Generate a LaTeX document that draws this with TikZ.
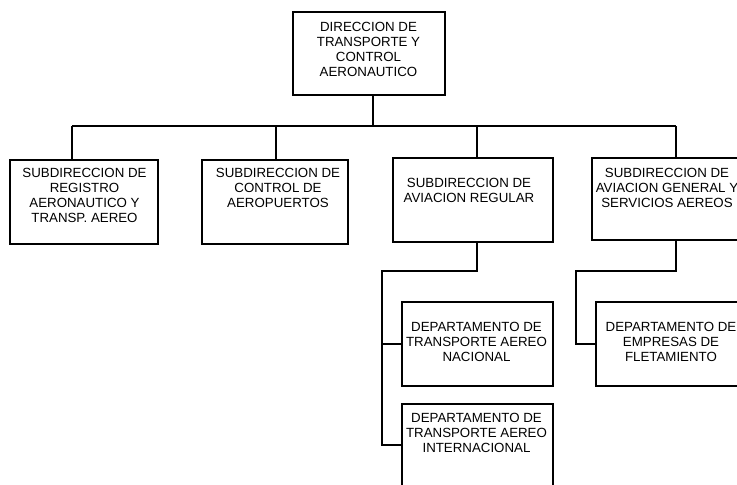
\documentclass[tikz,border=0pt]{standalone}
\usepackage{fontspec}
\setmainfont{Liberation Sans}
\begin{document}
\begin{tikzpicture}[x=1pt,y=-1pt,
  box/.style={draw=black, line width=2pt, fill=white, inner sep=0pt, outer sep=0pt},
  txt/.style={inner sep=0pt, align=center, anchor=north,
    font=\fontsize{13.3pt}{15pt}\selectfont},
  wire/.style={draw=black, line width=2pt}]
\useasboundingbox (0,0) rectangle (737,485);
\clip (0,0) rectangle (737,485);

% top level
\node[box, minimum width=152pt, minimum height=83pt] (T) at (369,53.5) {};
\node[txt] (tT) at (368.5,22) {DIRECCION DE\\TRANSPORTE Y\\CONTROL\\AERONAUTICO};

% sub-directorates
\node[box, minimum width=148pt, minimum height=84pt] (A) at (83.5,202) {};
\node[txt] (tA) at (84.5,168) {SUBDIRECCION DE\\REGISTRO\\AERONAUTICO Y\\TRANSP. AEREO};

\node[box, minimum width=146pt, minimum height=84pt] (B) at (275,202) {};
\node[txt] (tB) at (278,168) {SUBDIRECCION DE\\CONTROL DE\\AEROPUERTOS};

\node[box, minimum width=160pt, minimum height=84pt] (C) at (473,200) {};
\node[txt] (tC) at (469,178) {SUBDIRECCION DE\\AVIACION REGULAR};

\node[box, minimum width=152pt, minimum height=82pt] (D) at (668,199) {};
\node[txt] (tD) at (667,168) {SUBDIRECCION DE\\AVIACION GENERAL Y\\SERVICIOS AEREOS};

% departments
\node[box, minimum width=151pt, minimum height=84pt] (E) at (477.5,344) {};
\node[txt] (tE) at (476.5,322) {DEPARTAMENTO DE\\TRANSPORTE AEREO\\NACIONAL};

\node[box, minimum width=151pt, minimum height=86pt] (F) at (477.5,447) {};
\node[txt] (tF) at (476.5,413) {DEPARTAMENTO DE\\TRANSPORTE AEREO\\INTERNACIONAL};

\node[box, minimum width=152pt, minimum height=84pt] (G) at (672,344) {};
\node[txt] (tG) at (671,322) {DEPARTAMENTO DE\\EMPRESAS DE\\FLETAMIENTO};

% main bus
\coordinate (dA) at (72,126);
\coordinate (dB) at (276,126);
\coordinate (dC) at (477,126);
\coordinate (dD) at (676,126);
\coordinate (dT) at (373,126);
\draw[wire] (dA) -- (dD);
\draw[wire] (T.south -| dT) -- (dT);
\draw[wire] (dA) -- (dA |- A.north);
\draw[wire] (dB) -- (dB |- B.north);
\draw[wire] (dC) -- (dC |- C.north);
\draw[wire] (dD) -- (dD |- D.north);

% aviacion regular branch
\coordinate (jC) at (477,271);
\coordinate (sC) at (382,271);
\coordinate (fC) at (382,445);
\draw[wire] (C.south -| jC) -- (jC) -- (sC) -- (fC) -- (fC -| F.west);
\draw[wire] (sC |- E.west) -- (E.west);

% aviacion general branch
\coordinate (jD) at (676,271);
\coordinate (sD) at (576,271);
\draw[wire] (D.south -| jD) -- (jD) -- (sD) -- (sD |- G.west) -- (G.west);
\end{tikzpicture}
\end{document}
